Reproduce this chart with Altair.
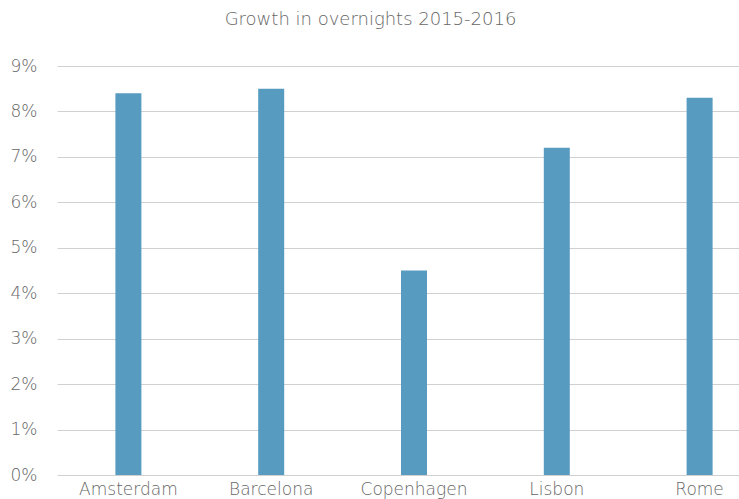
import altair as alt
import pandas as pd

cities = ["Amsterdam", "Barcelona", "Copenhagen", "Lisbon", "Rome"]
growth = [0.084, 0.085, 0.045, 0.072, 0.083]
y_ticks = [0, 0.01, 0.02, 0.03, 0.04, 0.05, 0.06, 0.07, 0.08, 0.09]

df = pd.DataFrame({"city": cities, "growth": growth})

FONT = "DejaVu Sans"
GRAY = "#666666"

chart = (
    alt.Chart(df)
    .mark_bar(color="#579BC0", size=26)
    .encode(
        x=alt.X(
            "city:N",
            sort=cities,
            title=None,
            scale=alt.Scale(range=[5, 719], paddingInner=0, paddingOuter=0),
            axis=alt.Axis(
                labelAngle=0,
                domain=False,
                ticks=False,
                labelFont=FONT,
                labelFontSize=17,
                labelFontWeight=200,
                labelColor=GRAY,
                labelPadding=6,
            ),
        ),
        y=alt.Y(
            "growth:Q",
            title=None,
            scale=alt.Scale(domain=[0, 0.09], nice=False),
            axis=alt.Axis(
                values=y_ticks,
                format=".0%",
                domain=False,
                ticks=False,
                gridColor="#d0d0d0",
                gridWidth=1,
                labelFont=FONT,
                labelFontSize=17,
                labelFontWeight=200,
                labelColor=GRAY,
                labelPadding=15,
            ),
        ),
    )
    .properties(
        width=687,
        height=409,
        autosize=alt.AutoSizeParams(type="none"),
        padding={"left": 52, "top": 66, "right": 0, "bottom": 24},
        title=alt.TitleParams(
            "Growth in overnights 2015-2016",
            font=FONT,
            fontSize=18,
            fontWeight=200,
            color=GRAY,
            anchor="middle",
            baseline="alphabetic",
            offset=14,
            dx=-25,
        ),
    )
    .configure_view(stroke=None)
)

chart.save("out.html", embed_options={"renderer": "svg", "actions": False})
